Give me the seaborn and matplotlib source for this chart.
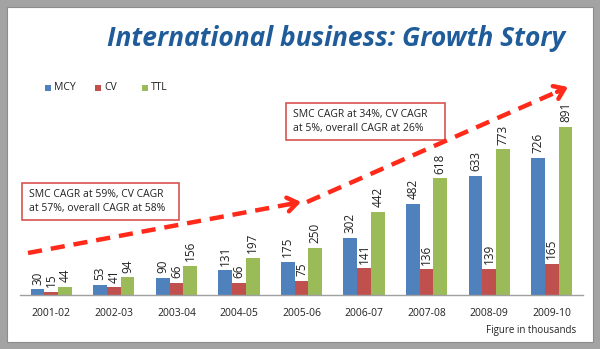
import matplotlib
matplotlib.use("Agg")
import matplotlib.pyplot as plt
import seaborn as sns
import pandas as pd
import numpy as np
from matplotlib.patches import Rectangle, FancyArrowPatch
from matplotlib.lines import Line2D

years = ["2001-02", "2002-03", "2003-04", "2004-05", "2005-06", "2006-07", "2007-08", "2008-09", "2009-10"]
mcy = [30, 53, 90, 131, 175, 302, 482, 633, 726]
cv = [15, 41, 66, 66, 75, 141, 136, 139, 165]
ttl = [44, 94, 156, 197, 250, 442, 618, 773, 891]
series_names = ["MCY", "CV", "TTL"]
colors = ["#4F81BD", "#C0504D", "#9BBB59"]

df = pd.DataFrame({
    "year": years * 3,
    "value": mcy + cv + ttl,
    "series": [s for s in series_names for _ in years],
})

sns.set_theme(style="white")
plt.rcParams["font.family"] = ["Open Sans", "DejaVu Sans"]

W, H = 600, 349
fig = plt.figure(figsize=(6, 3.49), dpi=100)
fig.patch.set_facecolor("#A3A3A3")
fig.patches.append(Rectangle((7 / W, 7 / H), 586 / W, 335 / H, transform=fig.transFigure,
                             facecolor="white", edgecolor="#8C8C8C", lw=0.8, zorder=-10))

ax_top = 100
ax_bot = 295
ax = fig.add_axes([20 / W, (H - ax_bot) / H, 563 / W, (ax_bot - ax_top) / H])
ax.set_facecolor("none")
ax.set_zorder(1)
sns.barplot(data=df, x="year", y="value", hue="series", palette=colors, width=0.66,
            saturation=1, legend=False, ax=ax, linewidth=0)
scale = 891 / (295 - 127)
ax.set_ylim(0, (ax_bot - ax_top) * scale)
ax.set_xlim(-0.5, len(years) - 0.5)

for cont in ax.containers:
    for bar in cont:
        h = bar.get_height()
        ax.text(bar.get_x() + bar.get_width() / 2, h + 25, f"{int(round(h))}", rotation=90,
                ha="center", va="bottom", fontsize=8.5, color="#222222")

for s in ["top", "right", "left"]:
    ax.spines[s].set_visible(False)
ax.spines["bottom"].set_color("#A0A0A0")
ax.spines["bottom"].set_linewidth(1)
ax.set_yticks([])
ax.set_xlabel("")
ax.set_ylabel("")
ax.tick_params(axis="x", which="major", length=0, labelsize=7.5, pad=9, labelcolor="#222222")
ax.set_xticks([i - 0.5 for i in range(len(years) + 1)], minor=True)
ax.tick_params(axis="x", which="minor", length=4, color="#A0A0A0", direction="out", width=1)

# Title
fig.text(565 / W, (H - 38) / H, "International business: Growth Story", ha="right", va="center",
         fontsize=19, fontweight="bold", style="italic", color="#1F5C99")

# Legend
lx = [45, 95, 142]
for x, name, c in zip(lx, series_names, colors):
    fig.patches.append(Rectangle(((x) / W, (H - 91) / H), 6 / W, 6 / H, transform=fig.transFigure,
                                 facecolor=c, edgecolor="none"))
    fig.text((x + 9) / W, (H - 88) / H, name, ha="left", va="center", fontsize=7.5, color="#222222")

# Annotation boxes
def box(x0, y0, x1, y1, lines):
    fig.patches.append(Rectangle((x0 / W, (H - y1) / H), (x1 - x0) / W, (y1 - y0) / H,
                                 transform=fig.transFigure, facecolor="white",
                                 edgecolor="#D9534F", lw=1.2, zorder=3))
    fig.text((x0 + 7) / W, (H - (y0 + y1) / 2) / H, "\n".join(lines), ha="left", va="center",
             fontsize=7.5, color="#222222", linespacing=1.4, zorder=4)

box(22, 183, 179, 220, ["SMC CAGR at 59%, CV CAGR", "at 57%, overall CAGR at 58%"])
box(286, 103, 445, 140, ["SMC CAGR at 34%, CV CAGR", "at 5%, overall CAGR at 26%"])

# Dashed arrows
red = "#FF2A1A"
def arrow(p0, p1):
    x0, y0 = p0[0], H - p0[1]
    x1, y1 = p1[0], H - p1[1]
    d = np.hypot(x1 - x0, y1 - y0)
    ux, uy = (x1 - x0) / d, (y1 - y0) / d
    ln = Line2D([x0 / W, (x1 - 4 * ux) / W], [y0 / H, (y1 - 4 * uy) / H], transform=fig.transFigure,
                color=red, lw=3.2, dashes=(3.2, 2.0), solid_capstyle="butt", dash_capstyle="butt", zorder=5)
    fig.lines.append(ln)
    a = FancyArrowPatch(((x1 - 12 * ux) / W, (y1 - 12 * uy) / H), (x1 / W, y1 / H),
                        transform=fig.transFigure,
                        arrowstyle="->,head_length=7,head_width=5", color=red,
                        lw=3.2, mutation_scale=1, zorder=5, shrinkA=0, shrinkB=0)
    fig.patches.append(a)

arrow((28, 253), (301, 202))
arrow((307, 202), (568, 87))

fig.text(576 / W, (H - 331) / H, "Figure in thousands", ha="right", va="center",
         fontsize=7, color="#222222")

fig.savefig("out.png", dpi=100, facecolor=fig.get_facecolor())
